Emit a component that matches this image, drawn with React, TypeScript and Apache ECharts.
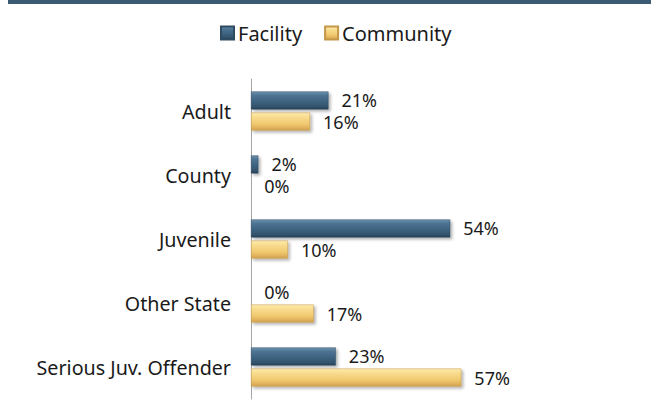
import React, { useEffect, useRef } from "react";
import * as echarts from "echarts";

const categories = ["Adult", "County", "Juvenile", "Other State", "Serious Juv. Offender"];
const facility = [21, 2, 54, 0, 23];
const community = [16, 0, 10, 17, 57];
const seriesNames = ["Facility", "Community"];

const FONT = "'Noto Sans', sans-serif";

export default function App() {
  const ref = useRef<HTMLDivElement>(null);
  useEffect(() => {
    if (!ref.current) return;
    const chart = echarts.init(ref.current, null, { renderer: "svg" });
    const blueGrad = new echarts.graphic.LinearGradient(0, 0, 0, 1, [
      { offset: 0, color: "#6f95b2" },
      { offset: 0.2, color: "#4d7493" },
      { offset: 0.55, color: "#3d6381" },
      { offset: 0.85, color: "#33546d" },
      { offset: 1, color: "#263f53" },
    ]);
    const goldGrad = new echarts.graphic.LinearGradient(0, 0, 0, 1, [
      { offset: 0, color: "#fcebb0" },
      { offset: 0.25, color: "#f8dc8e" },
      { offset: 0.65, color: "#f0c86e" },
      { offset: 1, color: "#d3a24f" },
    ]);
    const labelCfg = {
      show: true,
      position: "right" as const,
      distance: 13,
      formatter: "{c}%",
      fontFamily: FONT,
      fontSize: 18,
      color: "#1a1a1a",
    };
    chart.setOption({
      animation: false,
      backgroundColor: "#ffffff",
      graphic: [
        {
          type: "rect",
          shape: { x: 8, y: 0, width: 643, height: 4 },
          style: { fill: "#3b5b74" },
        },
      ],
      legend: {
        data: seriesNames,
        top: 18,
        left: 215,
        itemWidth: 13,
        itemHeight: 13,
        itemGap: 22,
        icon: "rect",
        textStyle: { fontFamily: FONT, fontSize: 20, color: "#1a1a1a", padding: [0, 0, 0, -1] },
      },
      grid: { left: 251, right: 39, top: 79, bottom: 20, containLabel: false },
      xAxis: {
        type: "value",
        min: 0,
        max: 100,
        show: false,
      },
      yAxis: {
        type: "category",
        data: categories,
        inverse: true,
        axisLine: { show: true, lineStyle: { color: "#a6a6a6", width: 1 } },
        axisTick: { show: false },
        axisLabel: { fontFamily: FONT, fontSize: 19.7, color: "#1a1a1a", margin: 20 },
      },
      series: [
        {
          name: seriesNames[0],
          type: "bar",
          data: facility,
          barWidth: 18,
          barGap: "17%",
          itemStyle: {
            color: blueGrad,
            borderColor: "#2e4b61",
            borderWidth: 0.5,
            shadowBlur: 3,
            shadowColor: "rgba(0,0,0,0.3)",
            shadowOffsetX: 2,
            shadowOffsetY: 2,
          },
          label: labelCfg,
        },
        {
          name: seriesNames[1],
          type: "bar",
          data: community,
          barWidth: 18,
          itemStyle: {
            color: goldGrad,
            borderColor: "#c49748",
            borderWidth: 0.5,
            shadowBlur: 3,
            shadowColor: "rgba(0,0,0,0.3)",
            shadowOffsetX: 2,
            shadowOffsetY: 2,
          },
          label: labelCfg,
        },
      ],
    });
    return () => chart.dispose();
  }, []);
  return (
    <div
      ref={ref}
      style={{ position: "absolute", left: 0, top: 0, width: 659, height: 419 }}
    />
  );
}
